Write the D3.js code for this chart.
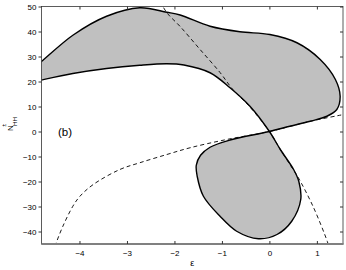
<!DOCTYPE html>
<html>
<head>
<meta charset="utf-8">
<script src="https://cdn.jsdelivr.net/npm/d3@7"></script>
<style>
  body { margin: 0; background: #fff; }
  text { font-family: "Liberation Sans", Arial, sans-serif; fill: #000; }
</style>
</head>
<body>
<svg width="346" height="270"></svg>
<script>
// closed boundary of the grey region, [eps, N]
var boundary = [
  [-4.9, 26.5], [-4.8, 28], [-4.14, 38.5], [-3.43, 46.1], [-2.73, 49.5], [-2.16, 47.7],
  [-1.88, 46.6], [-1.25, 42.1], [-0.62, 39.9], [0.01, 38.8], [0.58, 35.5], [1.07, 28.8],
  [1.39, 20.8], [1.49, 14.1], [1.42, 8.8], [1.21, 6.1], [0.86, 4.1], [0.43, 2.1], [0, 0],
  [-0.83, -3.4], [-1.25, -6.3], [-1.45, -9.5], [-1.54, -13.5], [-1.52, -18], [-1.39, -25.9],
  [-1.04, -33.9], [-0.69, -39.9], [-0.23, -42.9], [0.16, -41.2], [0.47, -35.9], [0.66, -27.2],
  [0.62, -20], [0.51, -15.2], [0.23, -7.2], [0, 0], [-0.41, 10.1], [-0.83, 17.5], [-1.25, 23.5],
  [-1.8, 26.6], [-2.16, 27.1], [-2.73, 26.5], [-3.43, 25.2], [-4.14, 23.2], [-4.85, 20.4], [-4.9, 20.2]
];

// dashed curves
var dashRising = [
  [-4.52, -46], [-4.49, -44.5], [-4.35, -37.9], [-4.14, -29.9], [-3.99, -25.9], [-3.71, -21.2],
  [-3.15, -15.2], [-2.73, -12.5], [-2.16, -9.2], [-1.67, -6.5], [-0.9, -3.2], [0, 0],
  [0.86, 4.1], [1.56, 6.8], [1.6, 7]
];
var dashFalling = [
  [-2.3, 52], [-2.16, 47.5], [-1.88, 42], [-1.46, 32.8], [-1.04, 23.6], [-0.77, 16.8],
  [-0.41, 9.8], [0, 0], [0.23, -7.2], [0.5, -15.2], [0.61, -18.5], [0.92, -30], [1.22, -44], [1.25, -46]
];

var xTicks = [-4, -3, -2, -1, 0, 1];
var yTicks = [-40, -30, -20, -10, 0, 10, 20, 30, 40, 50];

var svg = d3.select("svg"),
    pLeft = 41.5, pRight = 343, pTop = 6.5, pBottom = 244;

var x = d3.scaleLinear().domain([-4.8, 1.55]).range([pLeft, pRight]);
var y = d3.scaleLinear().domain([-45, 50]).range([pBottom, pTop]);

svg.append("defs").append("clipPath")
    .attr("id", "clip")
  .append("rect")
    .attr("x", pLeft)
    .attr("y", pTop)
    .attr("width", pRight - pLeft)
    .attr("height", pBottom - pTop);

var line = d3.line()
    .curve(d3.curveCatmullRom.alpha(0.5))
    .x(function(d) { return x(d[0]); })
    .y(function(d) { return y(d[1]); });

var plot = svg.append("g").attr("clip-path", "url(#clip)");

plot.append("path")
    .attr("d", line(boundary) + "Z")
    .attr("fill", "#c0c0c0")
    .attr("stroke", "none");

[dashRising, dashFalling].forEach(function(c) {
  plot.append("path")
      .attr("d", line(c))
      .attr("fill", "none")
      .attr("stroke", "#000")
      .attr("stroke-width", 0.9)
      .attr("stroke-dasharray", "4,3");
});

plot.append("path")
    .attr("d", line(boundary))
    .attr("fill", "none")
    .attr("stroke", "#000")
    .attr("stroke-width", 1.4)
    .attr("stroke-linejoin", "round");

// frame
svg.append("rect")
    .attr("x", pLeft).attr("y", pTop)
    .attr("width", pRight - pLeft).attr("height", pBottom - pTop)
    .attr("fill", "none")
    .attr("stroke", "#333")
    .attr("stroke-width", 0.8);

svg.append("line")
    .attr("x1", pLeft).attr("x2", pRight + 0.5)
    .attr("y1", pBottom).attr("y2", pBottom)
    .attr("stroke", "#808080")
    .attr("stroke-width", 2);

// axes (ticks drawn inward, MATLAB style)
svg.append("g")
    .attr("transform", "translate(0," + pBottom + ")")
    .call(d3.axisBottom(x).tickValues(xTicks).tickSize(-3).tickPadding(6)
      .tickFormat(function(d) { return d < 0 ? "\u2212" + (-d) : d; }))
    .call(function(g) { g.select(".domain").remove(); });

svg.append("g")
    .attr("transform", "translate(0," + pTop + ")")
    .call(d3.axisTop(x).tickValues(xTicks).tickSize(-3).tickFormat(""))
    .call(function(g) { g.select(".domain").remove(); });

svg.append("g")
    .attr("transform", "translate(" + pLeft + ",0)")
    .call(d3.axisLeft(y).tickValues(yTicks).tickSize(3).tickPadding(2)
      .tickFormat(function(d) { return d < 0 ? "\u2212" + (-d) : d; }))
    .call(function(g) { g.select(".domain").remove(); });

svg.append("g")
    .attr("transform", "translate(" + pRight + ",0)")
    .call(d3.axisRight(y).tickValues(yTicks).tickSize(-3).tickFormat(""))
    .call(function(g) { g.select(".domain").remove(); });

svg.selectAll(".tick line").attr("stroke", "#333");
svg.selectAll(".tick text")
    .style("font-family", "'Liberation Sans', Arial, sans-serif")
    .attr("font-size", 8);

// labels
svg.append("text")
    .attr("x", (pLeft + pRight) / 2)
    .attr("y", 266)
    .attr("text-anchor", "middle")
    .attr("font-size", 9)
    .text("\u03b5");

var yl = svg.append("g").attr("transform", "translate(13.3,131) rotate(-90)");
yl.append("text").attr("x", 0).attr("y", 0).attr("font-size", 8).text("N");
yl.append("text").attr("x", 4.2).attr("y", -7.3).attr("font-size", 5.5).text("\u00b1");
yl.append("text").attr("x", 5).attr("y", 4).attr("font-size", 6.2).text("HH");

svg.append("text")
    .attr("x", 58)
    .attr("y", 136)
    .attr("font-size", 11.5)
    .text("(b)");
</script>
</body>
</html>
